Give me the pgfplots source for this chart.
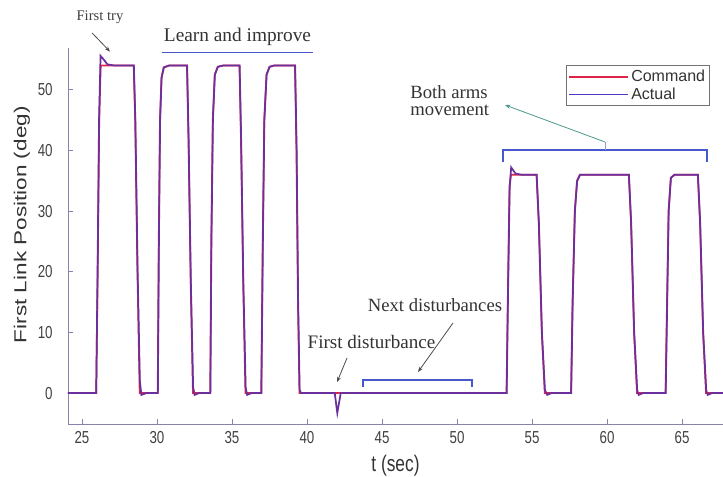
\documentclass[border=0pt]{standalone}
\usepackage{pgfplots}
\pgfplotsset{compat=1.18}
\usepackage{pgfplotstable}
\usepackage{fontspec}
\setmainfont{Liberation Serif}
\setsansfont{Liberation Sans}
\usetikzlibrary{arrows.meta}

\definecolor{cmdred}{rgb}{0.88,0.14,0.28}
\definecolor{actblue}{rgb}{0.30,0.22,0.76}
\definecolor{actpurple}{rgb}{0.42,0.19,0.62}
\definecolor{axisgray}{rgb}{0.55,0.5,0.68}
\definecolor{bracketblue}{rgb}{0.28,0.34,0.80}
\definecolor{arrowteal}{rgb}{0.3,0.6,0.55}
\definecolor{arrowgray}{rgb}{0.3,0.3,0.3}

\pgfplotstableread{
t v
24.07 0
25.95 0
26.05 20
26.15 45
26.25 54
28.45 54.0
28.55 45
28.7 20
28.85 0
30.05 0
30.12 25
30.2 45
30.3 52
30.45 53.7
30.8 54
32.0 54
32.1 42
32.25 18
32.4 0
33.55 0
33.62 25
33.72 45
33.85 52.5
34.05 53.8
34.4 54
35.5 54
35.6 42
35.75 18
35.9 0
36.95 0
37.05 25
37.15 45
37.3 52.5
37.5 53.8
37.8 54
39.2 54
39.3 40
39.4 15
39.5 0
53.3 0
53.4 18
53.5 34
53.6 36
55.3 36
55.45 28
55.65 10
55.85 0
57.6 0
57.7 15
57.85 30
58.0 35
58.2 36
61.45 36
61.6 28
61.8 10
62.0 0
63.9 0
64.0 15
64.1 30
64.25 35.5
64.5 36
66.05 36
66.2 28
66.4 10
66.6 0
67.73 0
}\cmdtab

\pgfplotstableread{
t v
24.07 0
25.95 0
26.04 20
26.14 45
26.24 55.6
26.45 55.0
26.7 54.2
27.2 54.0
28.46 54.0
28.56 45
28.71 20
28.86 2
28.96 -0.3
29.3 0
30.06 0
30.13 25
30.21 45
30.31 52
30.46 53.7
30.8 54
32.01 54
32.11 42
32.26 18
32.41 1
32.51 -0.3
32.8 0
33.56 0
33.63 25
33.73 45
33.86 52.5
34.06 53.8
34.4 54
35.51 54
35.61 42
35.76 18
35.91 1
36.01 -0.3
36.3 0
36.96 0
37.06 25
37.16 45
37.31 52.5
37.51 53.8
37.8 54
39.21 54
39.31 40
39.41 15
39.51 0.5
39.61 0
41.85 0
42.02 -3.3
42.25 0
53.31 0
53.41 18
53.51 34
53.61 37.2
53.9 36.2
54.3 36
55.31 36
55.46 28
55.66 10
55.86 0.5
56.01 -0.3
56.3 0
57.61 0
57.71 15
57.86 30
58.01 35
58.2 36
61.46 36
61.61 28
61.81 10
62.01 0.5
62.11 -0.3
62.4 0
63.91 0
64.01 15
64.11 30
64.26 35.5
64.5 36
66.06 36
66.21 28
66.41 10
66.61 0.5
66.71 -0.3
67.0 0
67.73 0
}\acttab

\begin{document}
\begin{tikzpicture}
\begin{axis}[name=ax, scale only axis, width=491.25pt, height=282pt,
  xmin=24.07, xmax=67.73, ymin=-5.1, ymax=56.9,
  axis x line*=bottom, axis y line*=left,
  xtick={25,30,...,65}, ytick={0,10,...,50},
  tick align=inside, major tick length=4pt,
  axis line style={axisgray, line width=0.7pt},
  tick style={axisgray, line width=0.6pt},
  ticklabel style={font=\sffamily\fontsize{10}{12}\selectfont, text=black!75},
  xticklabel={\scalebox{1}[1.3]{\pgfmathprintnumber{\tick}}},
  yticklabel={\scalebox{1}[1.3]{\pgfmathprintnumber{\tick}}},
  xticklabel style={yshift=-2pt},
  yticklabel style={xshift=-8pt},
  /pgf/number format/assume math mode=true,
  xlabel={\scalebox{1}[1.3]{t (sec)}},
  ylabel={\scalebox{1.3}[1]{First Link Position (deg)}},
  label style={font=\sffamily\fontsize{13}{15}\selectfont, text=black!80},
  xlabel style={at={(axis description cs:0.5,0)}, anchor=center, yshift=-31.5pt},
  ylabel style={at={(axis description cs:-0.0702,0.53)}, anchor=center, rotate=0},
  clip=false,
  legend cell align=left,
  legend style={at={(axis cs:57.27,54.1)}, anchor=north west,
    draw=black!55, line width=0.6pt, fill=white, inner sep=1.5pt,
    font=\sffamily\fontsize{12}{13}\selectfont, text=black!80,
    row sep=-1pt},
]
\addlegendimage{line legend, cmdred, line width=1.1pt, legend image code/.code={\draw[cmdred, line width=1.1pt] (0pt,0pt) -- (44pt,0pt);}}
\addlegendentry{Command}
\addlegendimage{line legend, actblue, line width=1.1pt, legend image code/.code={\draw[actblue, line width=1.1pt] (0pt,0pt) -- (44pt,0pt);}}
\addlegendentry{Actual}
\addplot[cmdred, line width=1.3pt, forget plot] table[x=t, y=v] {\cmdtab};
\addplot[actpurple, line width=1.3pt, forget plot] table[x=t, y=v] {\acttab};

% annotations
\node[font=\fontsize{11}{13}\selectfont, text=black!75] at (axis cs:26.2,62.0) {First try};
\draw[arrowgray, line width=0.6pt, -{Stealth[length=4pt,width=3pt]}] (axis cs:25.67,59.4) -- (axis cs:26.87,56.3);
\node[font=\fontsize{14.5}{16}\selectfont, text=black!80] at (axis cs:35.37,58.7) {Learn and improve};
\draw[bracketblue, line width=1.1pt] (axis cs:30.33,56.2) -- (axis cs:40.4,56.2);

\node[font=\fontsize{14}{16}\selectfont, text=black!80, align=left, anchor=west, inner sep=0pt] at (axis cs:46.87,48.2) {Both arms\\[-3pt]movement};
\draw[arrowteal, line width=0.6pt, -{Stealth[length=4pt,width=3pt]}] (axis cs:59.87,41.4) -- (axis cs:53.2,47.5);
\draw[bracketblue, line width=1pt] (axis cs:53.07,38.1) -- (axis cs:53.07,40.1) -- (axis cs:66.67,40.1) -- (axis cs:66.67,38.1);
\draw[bracketblue!60, line width=0.6pt] (axis cs:59.87,40.1) -- (axis cs:59.87,41.4);

\node[font=\fontsize{14}{16}\selectfont, text=black!80] at (axis cs:48.53,14.5) {Next disturbances};
\draw[arrowgray, line width=0.6pt, -{Stealth[length=4pt,width=3pt]}] (axis cs:49.73,11.55) -- (axis cs:47.4,3.47);
\node[font=\fontsize{14.3}{16}\selectfont, text=black!80] at (axis cs:44.3,8.4) {First disturbance};
\draw[arrowgray, line width=0.6pt, -{Stealth[length=4pt,width=3pt]}] (axis cs:42.67,5.8) -- (axis cs:42.0,1.8);
\draw[bracketblue, line width=1pt] (axis cs:43.73,1.0) -- (axis cs:43.73,2.15) -- (axis cs:51.0,2.15) -- (axis cs:51.0,1.0);
\end{axis}
\pgfresetboundingbox
\path ([shift={(-51pt,-39.75pt)}]ax.south west) rectangle ([shift={(491.25pt,318pt)}]ax.south west);
\end{tikzpicture}
\end{document}
